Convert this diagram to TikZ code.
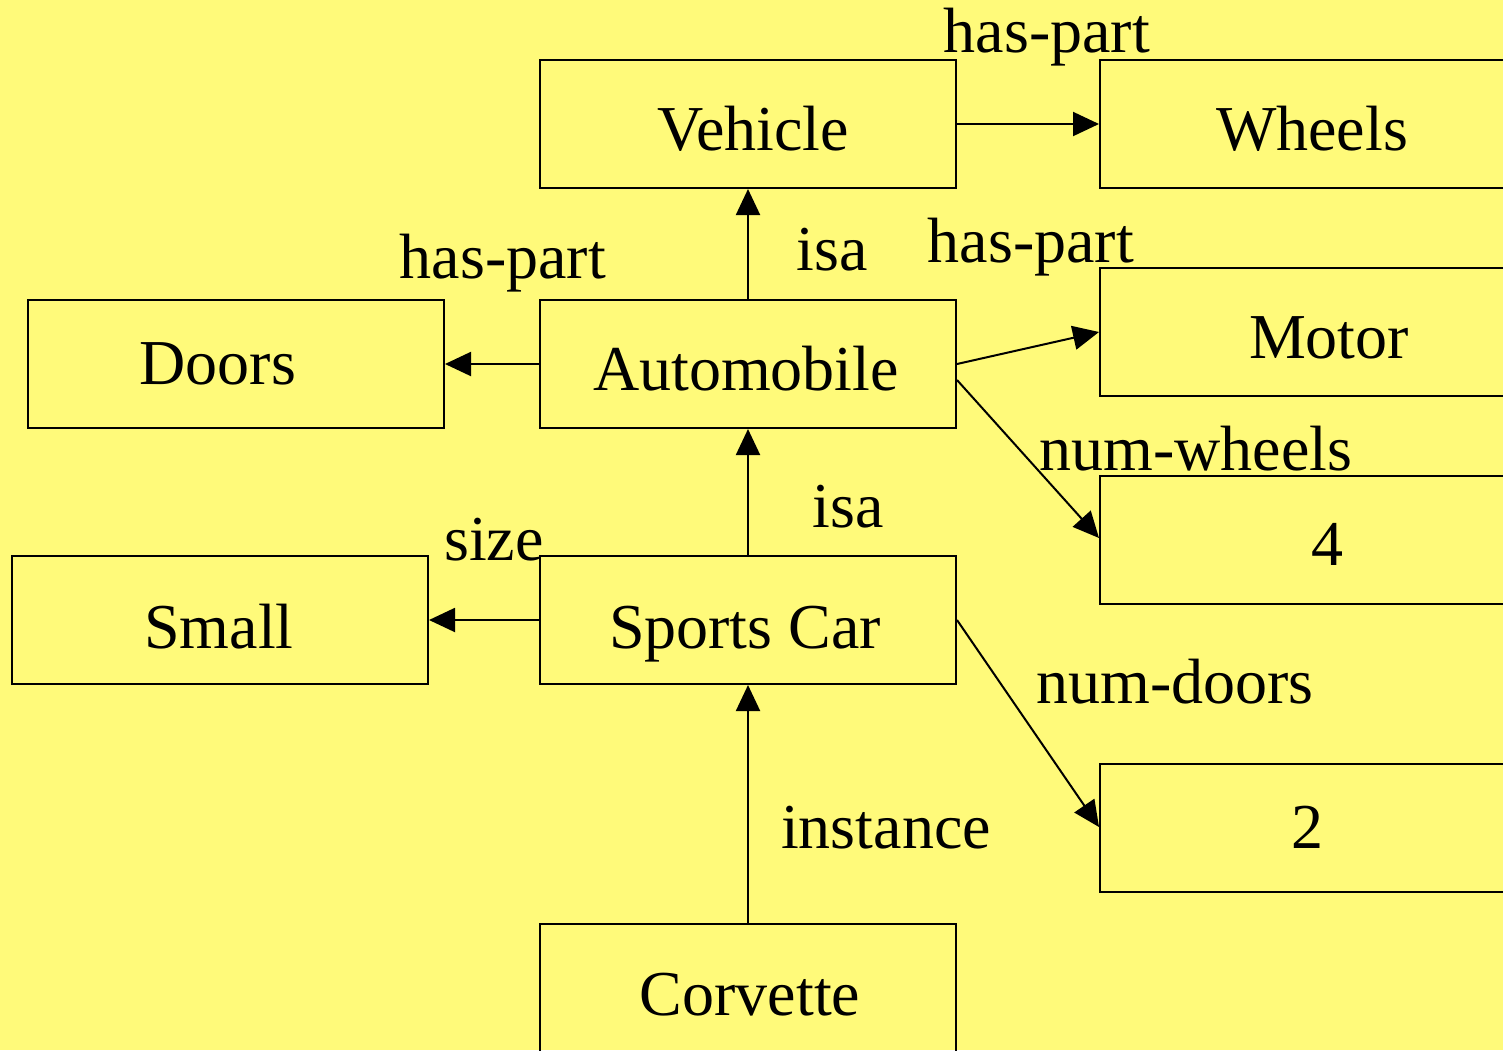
\documentclass[tikz,border=0pt]{standalone}
\usepackage{fontspec}
\setmainfont{Liberation Serif}
\usetikzlibrary{arrows.meta}
\definecolor{bgyellow}{RGB}{255,250,122}
\begin{document}
\begin{tikzpicture}[x=1pt,y=-1pt,
  box/.style={draw=black,line width=2pt,rectangle,minimum width=416pt,minimum height=128pt,inner sep=0pt},
  txt/.style={anchor=base,inner sep=0pt,font=\fontsize{64}{72}\selectfont},
  conn/.style={line width=2pt,-{Triangle[length=26pt,width=24pt]}}]
\useasboundingbox (0,0) rectangle (1503,1050);
\clip (0,0) rectangle (1503,1050);
\fill[bgyellow] (0,0) rectangle (1503,1050);
% boxes
\node[box] (vehicle) at (748,124) {};
\node[box] (wheels) at (1308,124) {};
\node[box] (doors) at (236,364) {};
\node[box] (auto) at (748,364) {};
\node[box] (motor) at (1308,332) {};
\node[box] (four) at (1308,540) {};
\node[box] (small) at (220,620) {};
\node[box] (sports) at (748,620) {};
\node[box] (two) at (1308,828) {};
\node[box] (corvette) at (748,988) {};
% box texts
\node[txt] (tvehicle) at (753,150) {Vehicle};
\node[txt] (twheels) at (1312,150) {Wheels};
\node[txt] (tdoors) at (218,384) {Doors};
\node[txt] (tauto) at (746,390) {Automobile};
\node[txt] (tmotor) at (1329,358) {Motor};
\node[txt] (tfour) at (1327,565) {4};
\node[txt] (tsmall) at (219,648) {Small};
\node[txt] (tsports) at (745,648) {Sports Car};
\node[txt] (ttwo) at (1307,848) {2};
\node[txt] (tcorvette) at (750,1015) {Corvette};
% connectors
\draw[conn] (vehicle.east) -- (wheels.west);
\draw[conn] (auto.north) -- (vehicle.south);
\draw[conn] (auto.west) -- (doors.east);
\draw[conn] (auto.east) -- (motor.west);
\draw[conn] ([yshift=-16pt]auto.east) -- ([yshift=2pt]four.west);
\draw[conn] (sports.north) -- (auto.south);
\draw[conn] (sports.west) -- (small.east);
\draw[conn] (sports.east) -- ([yshift=1pt]two.west);
\draw[conn] (corvette.north) -- (sports.south);
% connector labels
\node[txt] (l1) at (1047,52) {has-part};
\node[txt] (l2) at (832,270) {isa};
\node[txt] (l3) at (503,278) {has-part};
\node[txt] (l4) at (1031,262) {has-part};
\node[txt] (l5) at (1196,470) {num-wheels};
\node[txt] (l6) at (848,527) {isa};
\node[txt] (l7) at (494,560) {size};
\node[txt] (l8) at (1175,703) {num-doors};
\node[txt] (l9) at (886,848) {instance};
\end{tikzpicture}
\end{document}
